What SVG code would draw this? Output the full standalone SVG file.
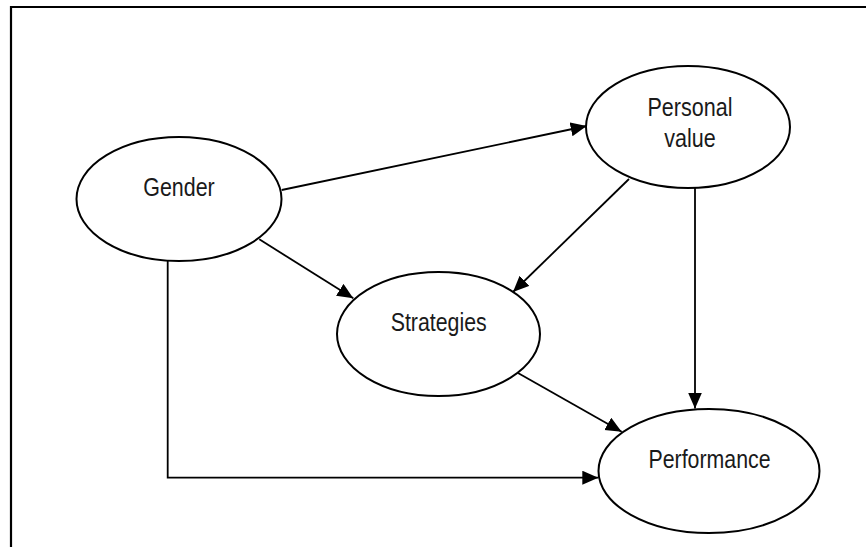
<svg xmlns="http://www.w3.org/2000/svg" width="866" height="547" viewBox="0 0 866 547">
  <style>
    .node ellipse { fill: #ffffff; stroke: #000000; stroke-width: 2; }
    .node text { font-family: "Liberation Sans", Arial, sans-serif; font-size: 25px; fill: #1a1a1a; text-anchor: middle; }
    .edge { fill: none; stroke: #000000; stroke-width: 1.8; marker-end: url(#arrow); }
    .frame { fill: none; stroke: #000000; stroke-width: 2.2; }
  </style>
  <defs>
    <marker id="arrow" markerUnits="userSpaceOnUse" markerWidth="17" markerHeight="15" refX="16" refY="7" orient="auto">
      <path d="M0,0 L16,7 L0,14 Z" fill="#000000"/>
    </marker>
  </defs>

  <rect width="866" height="547" fill="#ffffff"/>
  <!-- outer frame -->
  <path class="frame" d="M11,547 L11,7 L866,7"/>

  <g id="connectors">
    <line class="edge" x1="281.7" y1="190" x2="586.7" y2="126"/>
    <line class="edge" x1="259.3" y1="239.3" x2="353.3" y2="298.3"/>
    <line class="edge" x1="629" y1="179" x2="513" y2="292"/>
    <line class="edge" x1="695" y1="188" x2="695" y2="408.5"/>
    <line class="edge" x1="518" y1="373" x2="621.7" y2="431.7"/>
    <polyline class="edge" points="167.7,260.5 167.7,477.7 598.3,477.7"/>
  </g>

  <g id="gender" class="node">
    <ellipse cx="179" cy="199" rx="102.5" ry="62"/>
    <text x="179" y="195.7" textLength="71.5" lengthAdjust="spacingAndGlyphs">Gender</text>
  </g>

  <g id="personal-value" class="node">
    <ellipse cx="688" cy="127" rx="102" ry="61"/>
    <text x="690" y="116" textLength="85" lengthAdjust="spacingAndGlyphs">Personal</text>
    <text x="690" y="146.7" textLength="51.5" lengthAdjust="spacingAndGlyphs">value</text>
  </g>

  <g id="strategies" class="node">
    <ellipse cx="438.5" cy="334" rx="101.5" ry="62"/>
    <text x="438.7" y="330.7" textLength="96" lengthAdjust="spacingAndGlyphs">Strategies</text>
  </g>

  <g id="performance" class="node">
    <ellipse cx="709" cy="471" rx="110.5" ry="62"/>
    <text x="709.5" y="467.7" textLength="122" lengthAdjust="spacingAndGlyphs">Performance</text>
  </g>
</svg>
